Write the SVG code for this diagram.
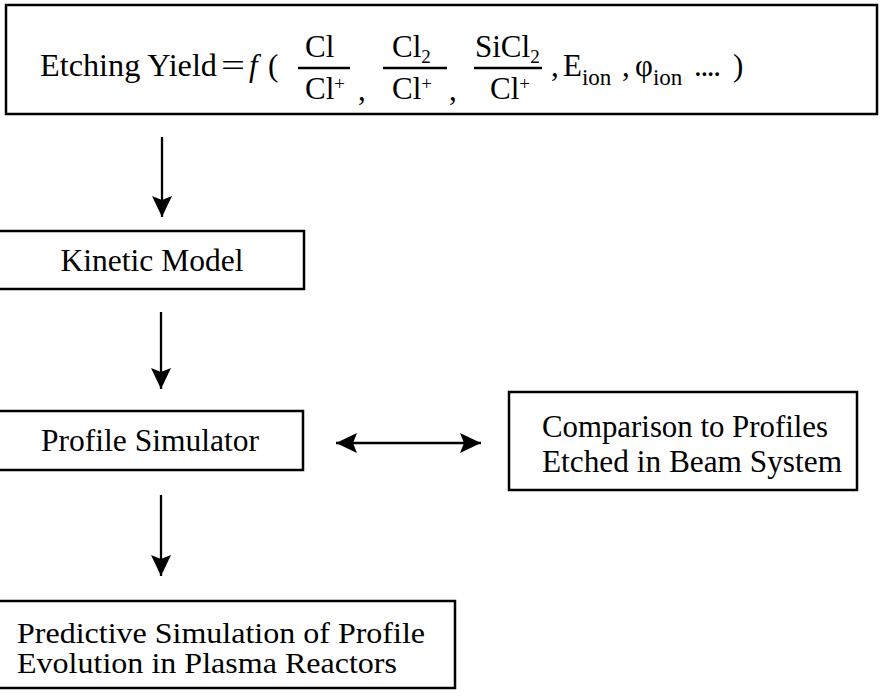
<svg xmlns="http://www.w3.org/2000/svg" width="885" height="700" viewBox="0 0 885 700">
<style>
.box{fill:#fff;stroke:#000;stroke-width:2.5}
text{font-family:'Liberation Serif','DejaVu Serif','Times New Roman',serif;fill:#000}
.n{font-size:31.5px}
.p{font-size:29.5px}
.f{font-size:31px}
.s{font-size:19px}
.sub{font-size:23px}
.c{stroke:#000;stroke-width:2.3;fill:none}
.bar{stroke:#000;stroke-width:2.5}
</style>
<defs>
<marker id="ah" viewBox="0 0 21 20" refX="21" refY="10" markerWidth="21" markerHeight="20" orient="auto-start-reverse" markerUnits="userSpaceOnUse">
<path d="M0,0 L21,10 L0,20 L4,10 z" fill="#000"/>
</marker>
</defs>
<rect width="885" height="700" fill="#fff"/>
<g id="connectors">
<line class="c" x1="162" y1="137" x2="162" y2="217" marker-end="url(#ah)"/>
<line class="c" x1="161" y1="312" x2="161" y2="389" marker-end="url(#ah)"/>
<line class="c" x1="161" y1="495" x2="161" y2="576" marker-end="url(#ah)"/>
<line class="c" x1="336" y1="443" x2="481" y2="443" marker-start="url(#ah)" marker-end="url(#ah)"/>
</g>
<g id="etching-yield" font-family="Liberation Serif, DejaVu Serif, serif">
<rect class="box" x="6" y="5" width="871" height="109"/>
<text class="f" x="40" y="76" textLength="177" lengthAdjust="spacingAndGlyphs">Etching Yield</text>
<text class="f" x="221" y="76" textLength="24" lengthAdjust="spacingAndGlyphs">=</text>
<text class="f" x="249" y="76" font-style="italic">f</text>
<text class="f" x="268" y="76">(</text>
<line class="bar" x1="298" y1="68" x2="350" y2="68"/>
<text class="f" x="305" y="57">Cl</text>
<text class="f" x="305" y="99">Cl<tspan class="s" dy="-9">+</tspan></text>
<text class="f" x="358" y="100">,</text>
<line class="bar" x1="383" y1="68" x2="447" y2="68"/>
<text class="f" x="392" y="57">Cl<tspan class="s" dy="6">2</tspan></text>
<text class="f" x="392" y="99">Cl<tspan class="s" dy="-9">+</tspan></text>
<text class="f" x="449" y="100">,</text>
<line class="bar" x1="474" y1="68" x2="542" y2="68"/>
<text class="f" x="475" y="57">SiCl<tspan class="s" dy="6">2</tspan></text>
<text class="f" x="490" y="99">Cl<tspan class="s" dy="-9">+</tspan></text>
<text class="f" x="551" y="76">,</text>
<text class="f" x="563" y="76">E<tspan class="sub" dy="9">ion</tspan></text>
<text class="f" x="622" y="76">,</text>
<text class="f" x="635" y="76">φ<tspan class="sub" dy="9">ion</tspan></text>
<text class="f" x="694" y="76" textLength="27" lengthAdjust="spacing">....</text>
<text class="f" x="733" y="76">)</text>
</g>
<g id="kinetic-model">
<rect class="box" x="-3" y="231" width="307" height="58"/>
<text class="n" x="152" y="271" text-anchor="middle">Kinetic Model</text>
</g>
<g id="profile-simulator">
<rect class="box" x="-3" y="411" width="306" height="59"/>
<text class="n" x="150" y="451" text-anchor="middle">Profile Simulator</text>
</g>
<g id="comparison">
<rect class="box" x="509" y="392" width="348" height="98"/>
<text class="n" x="542" y="437" textLength="286" lengthAdjust="spacingAndGlyphs">Comparison to Profiles</text>
<text class="n" x="542" y="472" textLength="300" lengthAdjust="spacingAndGlyphs">Etched in Beam System</text>
</g>
<g id="predictive">
<rect class="box" x="-3" y="601" width="458" height="87"/>
<text class="p" x="17" y="643" textLength="408" lengthAdjust="spacingAndGlyphs">Predictive Simulation of Profile</text>
<text class="p" x="17" y="673" textLength="380" lengthAdjust="spacingAndGlyphs">Evolution in Plasma Reactors</text>
</g>
</svg>
